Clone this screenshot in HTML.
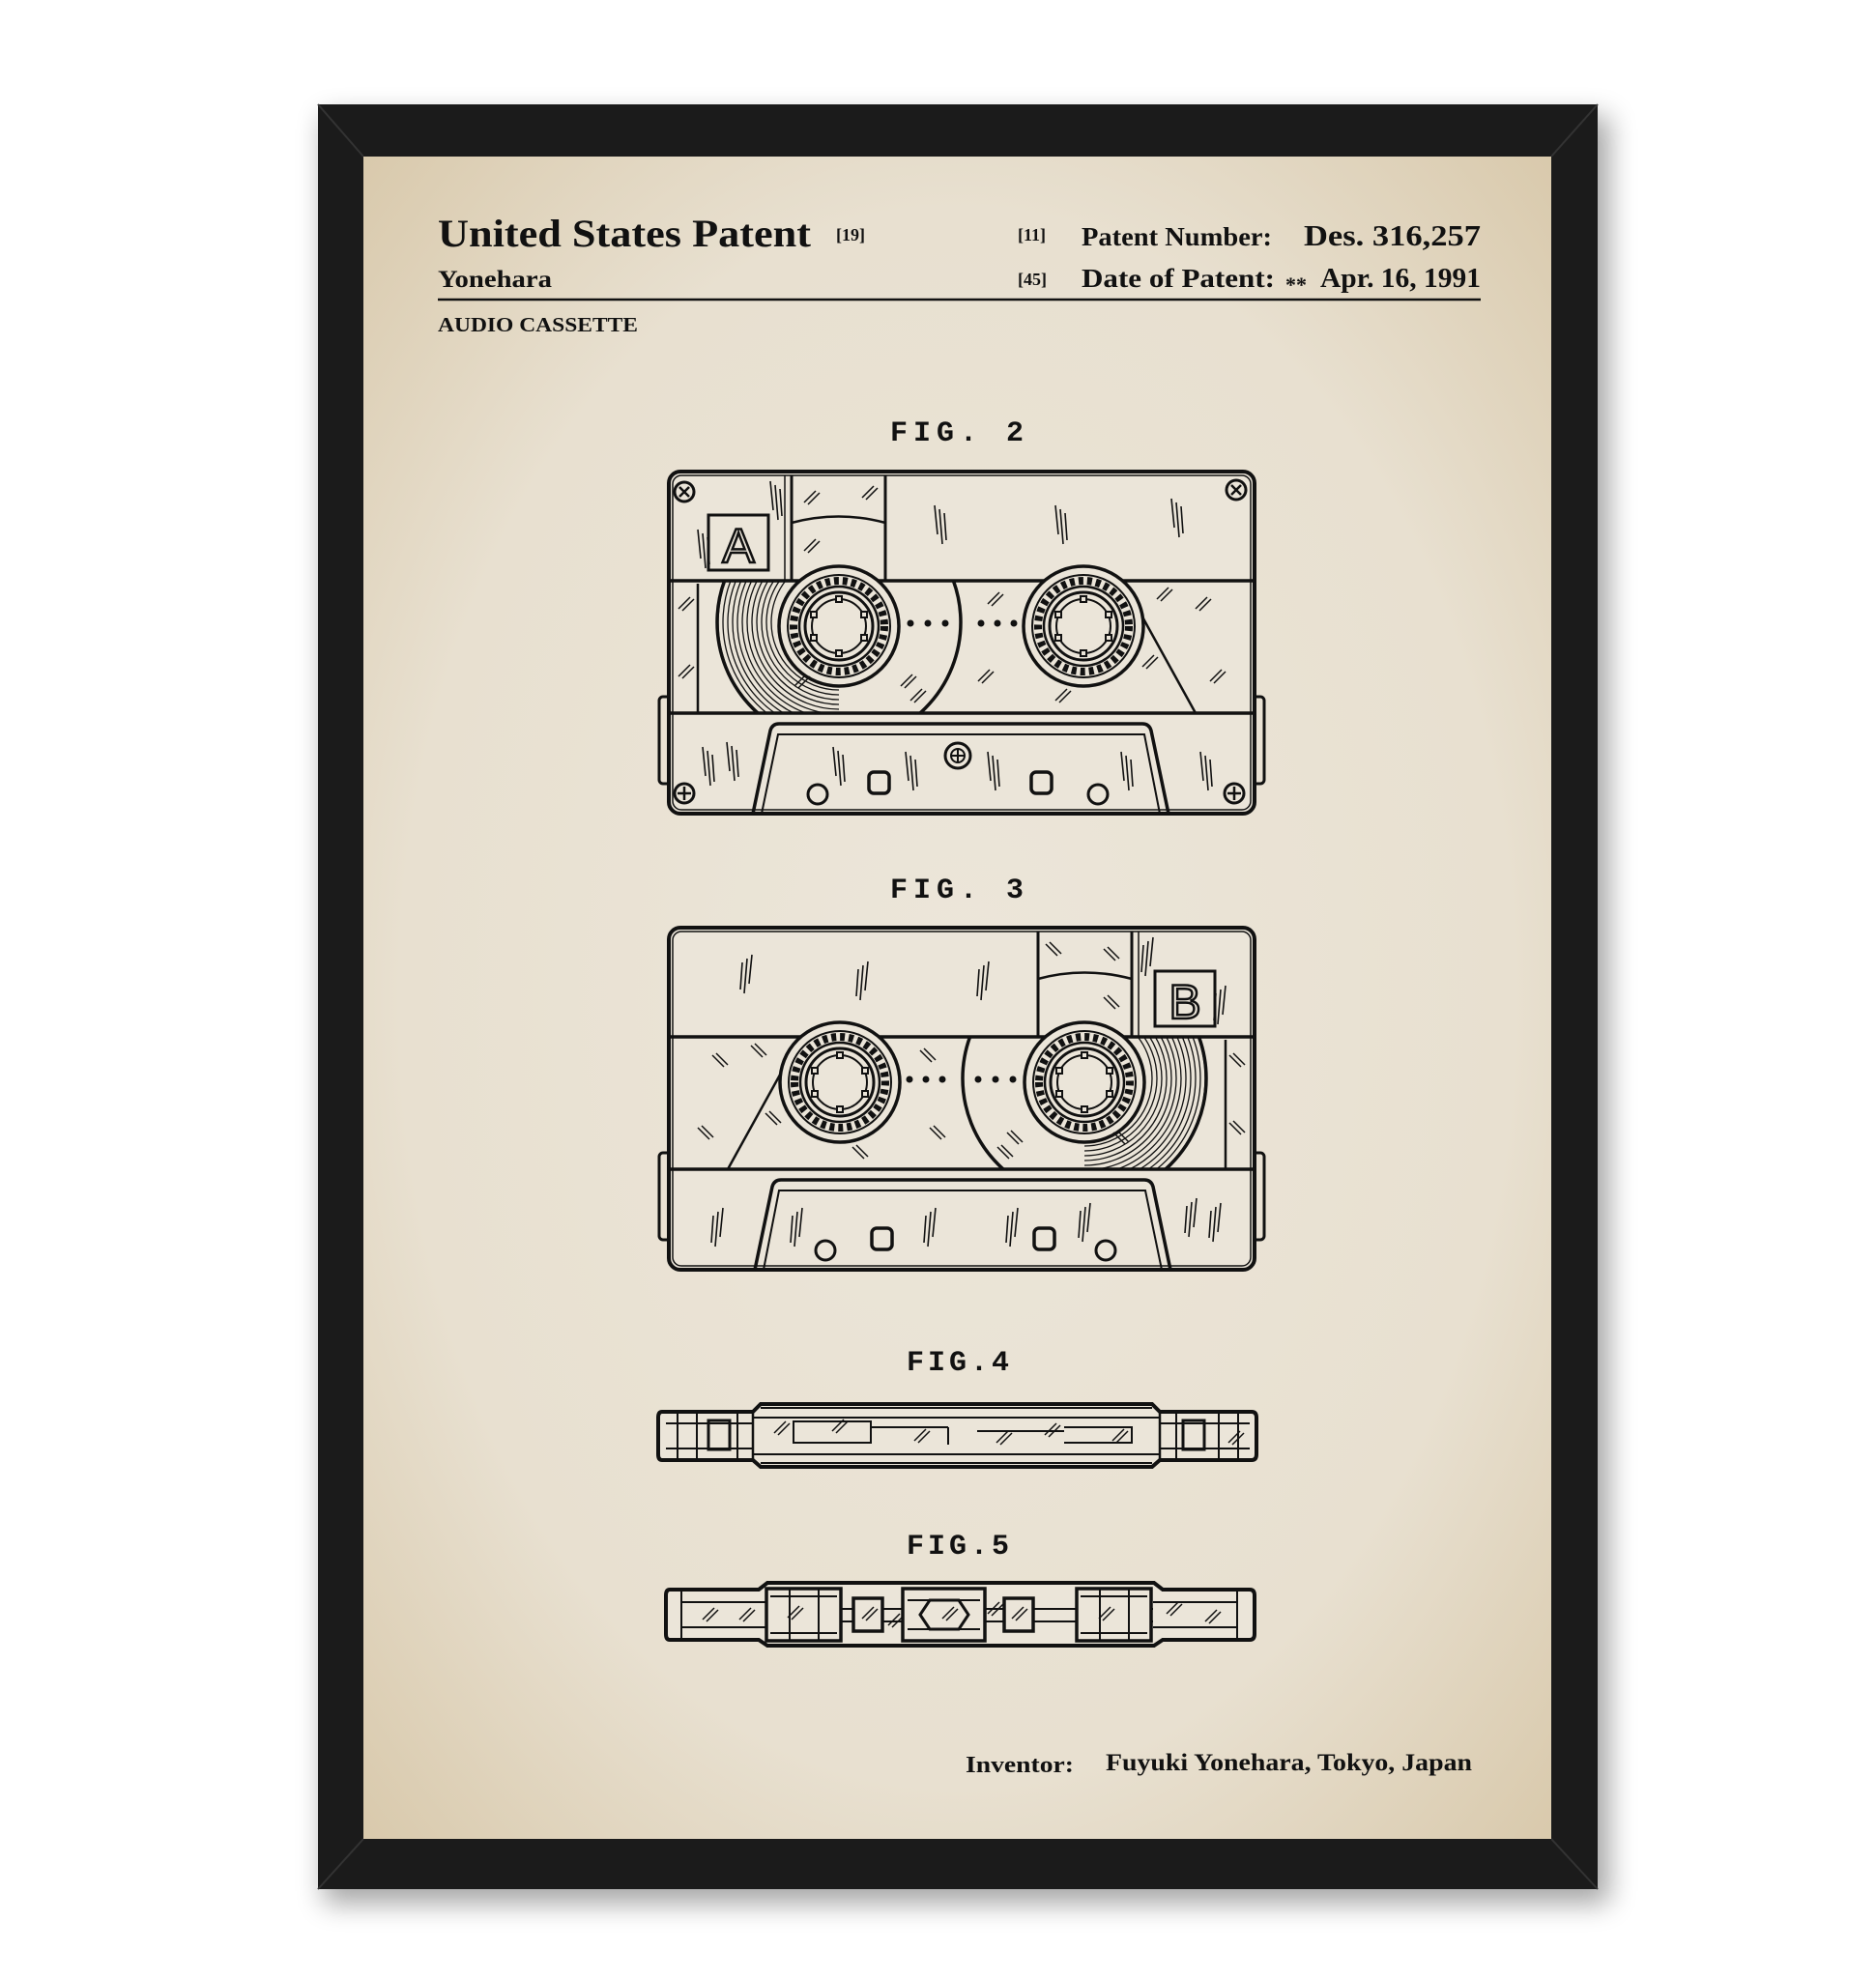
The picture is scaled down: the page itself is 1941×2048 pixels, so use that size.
<!DOCTYPE html>
<html><head><meta charset="utf-8"><style>
html,body{margin:0;padding:0;background:#fff;}
svg{display:block}
</style></head><body>
<svg width="1941" height="2048" viewBox="0 0 1941 2048" xmlns="http://www.w3.org/2000/svg">
<defs>
<radialGradient id="pg" cx="50%" cy="50%" r="72%">
<stop offset="0" stop-color="#ece6da"/><stop offset="0.65" stop-color="#e8e0d0"/><stop offset="1" stop-color="#d8c8aa"/>
</radialGradient>
<filter id="sh" x="-10%" y="-10%" width="120%" height="120%"><feGaussianBlur stdDeviation="14"/></filter>
<clipPath id="win"><rect x="0" y="113" width="606" height="137"/></clipPath>
<clipPath id="leftpack"><rect x="0" y="113" width="176" height="137"/></clipPath>
<g id="reel">
<circle r="62" fill="#ebe5d9" stroke="#111" stroke-width="3.5"/>
<circle r="53" fill="none" stroke="#111" stroke-width="2"/>
<circle r="47" fill="none" stroke="#111" stroke-width="8" stroke-dasharray="5 4"/>
<circle r="41" fill="#ebe5d9" stroke="#111" stroke-width="2.5"/>
<circle r="35" fill="none" stroke="#111" stroke-width="3"/>
<circle r="28" fill="none" stroke="#111" stroke-width="2"/>
<g stroke="#111" stroke-width="2" fill="#ebe5d9">
<rect x="-3" y="-31" width="6" height="6"/><rect x="-3" y="25" width="6" height="6"/>
<rect x="-29" y="-15" width="6" height="6"/><rect x="23" y="-15" width="6" height="6"/>
<rect x="-29" y="9" width="6" height="6"/><rect x="23" y="9" width="6" height="6"/>
</g>
</g>
<g id="screwX"><circle r="10" fill="none" stroke="#111" stroke-width="3"/><path d="M-5,-5L5,5M5,-5L-5,5" stroke="#111" stroke-width="2.5"/></g>
<g id="screwP"><circle r="10" fill="none" stroke="#111" stroke-width="3"/><path d="M-7,0H7M0,-7V7" stroke="#111" stroke-width="2.5"/></g>
<g id="hatch"><path d="M0,12L12,0M4,14L16,2" stroke="#111" stroke-width="1.5"/></g>
<g id="vh"><path d="M0,0L3,30M5,4L8,40M10,8L12,36" stroke="#111" stroke-width="1.6" fill="none"/></g>
<g id="cas" fill="none" stroke="#111">
<rect x="-10" y="233" width="12" height="90" rx="4" stroke-width="3"/>
<rect x="604" y="233" width="12" height="90" rx="4" stroke-width="3"/>
<rect x="0" y="0" width="606" height="354" rx="12" stroke-width="4" fill="#ebe5d9"/>
<rect x="4" y="4" width="598" height="346" rx="9" stroke-width="1.5"/>
<path d="M0,113H606M0,250H606" stroke-width="3.5"/>
<path d="M127,4V113M224,4V113" stroke-width="3"/>
<path d="M120,4V113" stroke-width="1.5"/>
<path d="M127,53Q176,40 224,53" stroke-width="2.5"/>
<rect x="41" y="45" width="62" height="57" stroke-width="3"/>
<g clip-path="url(#leftpack)" stroke-width="1.3">
<circle cx="176" cy="156" r="125"/><circle cx="176" cy="156" r="120"/><circle cx="176" cy="156" r="115"/><circle cx="176" cy="156" r="110"/><circle cx="176" cy="156" r="105"/><circle cx="176" cy="156" r="100"/><circle cx="176" cy="156" r="95"/><circle cx="176" cy="156" r="90"/><circle cx="176" cy="156" r="85"/><circle cx="176" cy="156" r="80"/><circle cx="176" cy="156" r="75"/><circle cx="176" cy="156" r="70"/>
</g>
<g clip-path="url(#win)">
<circle cx="176" cy="156" r="126" stroke-width="3.5"/>
<path d="M471,116L545,250" stroke-width="2.5"/>
<path d="M30,116V250" stroke-width="2.5"/>
</g>
<use href="#reel" x="176" y="160"/>
<use href="#reel" x="429" y="160"/>
<g fill="#111" stroke="none"><circle cx="250" cy="157" r="3.5"/><circle cx="268" cy="157" r="3.5"/><circle cx="286" cy="157" r="3.5"/><circle cx="323" cy="157" r="3.5"/><circle cx="340" cy="157" r="3.5"/><circle cx="357" cy="157" r="3.5"/></g>
<path d="M87,354L105,268Q107,261 114,261H490Q497,261 499,268L517,354" stroke-width="3.5"/>
<path d="M96,354L113,272H492L508,354" stroke-width="2"/>
<circle cx="154" cy="334" r="10" stroke-width="3"/><circle cx="444" cy="334" r="10" stroke-width="3"/>
<rect x="207" y="311" width="21" height="22" rx="5" stroke-width="3.5"/><rect x="375" y="311" width="21" height="22" rx="5" stroke-width="3.5"/>
<use href="#vh" x="275" y="35"/><use href="#vh" x="400" y="35"/><use href="#vh" x="520" y="28"/>
<use href="#vh" x="30" y="60"/><use href="#vh" x="105" y="10"/>
<use href="#vh" x="35" y="285"/><use href="#vh" x="60" y="280"/><use href="#vh" x="170" y="285"/><use href="#vh" x="245" y="290"/><use href="#vh" x="330" y="290"/><use href="#vh" x="468" y="290"/><use href="#vh" x="550" y="290"/>
<use href="#hatch" x="140" y="20"/><use href="#hatch" x="200" y="15"/><use href="#hatch" x="140" y="70"/>
<use href="#hatch" x="10" y="130"/><use href="#hatch" x="10" y="200"/><use href="#hatch" x="130" y="210"/><use href="#hatch" x="240" y="210"/><use href="#hatch" x="250" y="225"/><use href="#hatch" x="320" y="205"/><use href="#hatch" x="330" y="125"/><use href="#hatch" x="400" y="225"/><use href="#hatch" x="490" y="190"/><use href="#hatch" x="545" y="130"/><use href="#hatch" x="560" y="205"/><use href="#hatch" x="505" y="120"/>
</g>
</defs>

<rect x="335" y="120" width="1330" height="1850" fill="#000" opacity="0.35" filter="url(#sh)"/>
<rect x="329" y="108" width="1324" height="1847" fill="#1b1b1b"/>
<path d="M329,108L376,162M1653,108L1605,162M329,1955L376,1903M1653,1955L1605,1903" stroke="#333" stroke-width="2"/>
<rect x="376" y="162" width="1229" height="1741" fill="url(#pg)"/>

<g font-family="Liberation Serif, serif" font-weight="bold" fill="#111">
<text x="453" y="255" font-size="40" textLength="386" lengthAdjust="spacingAndGlyphs">United States Patent</text>
<text x="865" y="249" font-size="18">[19]</text>
<text x="1053" y="249" font-size="18">[11]</text>
<text x="1119" y="254" font-size="27" textLength="197" lengthAdjust="spacingAndGlyphs">Patent Number:</text>
<text x="1349" y="254" font-size="31" textLength="183" lengthAdjust="spacingAndGlyphs">Des. 316,257</text>
<text x="453" y="297" font-size="25" textLength="118" lengthAdjust="spacingAndGlyphs">Yonehara</text>
<text x="1053" y="295" font-size="18">[45]</text>
<text x="1119" y="297" font-size="27" textLength="200" lengthAdjust="spacingAndGlyphs">Date of Patent:</text>
<text x="1330" y="302" font-size="22">**</text>
<text x="1366" y="297" font-size="29" textLength="166" lengthAdjust="spacingAndGlyphs">Apr. 16, 1991</text>
<text x="453" y="343" font-size="21" textLength="207" lengthAdjust="spacingAndGlyphs">AUDIO CASSETTE</text>
<text x="999" y="1834" font-size="24" textLength="112" lengthAdjust="spacingAndGlyphs">Inventor:</text>
<text x="1144" y="1832" font-size="25" textLength="379" lengthAdjust="spacingAndGlyphs">Fuyuki Yonehara, Tokyo, Japan</text>
</g>
<path d="M453,310H1532" stroke="#111" stroke-width="2.5"/>

<g font-family="Liberation Mono, monospace" font-size="30" fill="#111" text-anchor="middle" font-weight="bold">
<text x="993" y="456" letter-spacing="6">FIG. 2</text>
<text x="993" y="929" letter-spacing="6">FIG. 3</text>
<text x="993" y="1418" letter-spacing="4">FIG.4</text>
<text x="993" y="1608" letter-spacing="4">FIG.5</text>
</g>

<!-- FIG 2 -->
<use href="#cas" x="692" y="488"/>
<g transform="translate(692 488)">
<use href="#screwX" x="16" y="21"/><use href="#screwX" x="587" y="19"/>
<use href="#screwP" x="16" y="333"/><use href="#screwP" x="585" y="333"/>
<circle cx="299" cy="294" r="13" fill="none" stroke="#111" stroke-width="3"/>
<path d="M293,294H305M299,288V300" stroke="#111" stroke-width="2"/>
<circle cx="299" cy="294" r="7" fill="none" stroke="#111" stroke-width="2"/>
</g>
<text x="764" y="582" font-family="Liberation Sans, sans-serif" font-size="50" fill="none" stroke="#111" stroke-width="2.5" text-anchor="middle">A</text>

<!-- FIG 3 (mirror, no screws) -->
<g transform="translate(1298 960) scale(-1 1)"><use href="#cas"/></g>
<text x="1226" y="1054" font-family="Liberation Sans, sans-serif" font-size="50" fill="none" stroke="#111" stroke-width="2.5" text-anchor="middle">B</text>

<!-- FIG 4 -->
<g transform="translate(681 1453)" fill="none" stroke="#111">
<path d="M4,8H98L106,0H511L519,8H614Q619,8 619,14V52Q619,58 614,58H519L511,65H106L98,58H4Q0,58 0,52V14Q0,8 4,8Z" stroke-width="4" fill="#ebe5d9"/>
<path d="M106,4H511M106,61H511" stroke-width="2"/>
<path d="M98,8V58M519,8V58" stroke-width="2.5"/>
<path d="M8,20H98M8,46H98M519,20H612M519,46H612M98,14H519M98,52H519" stroke-width="2"/>
<path d="M20,8V58M40,8V58M82,8V58M536,8V58M580,8V58M600,8V58" stroke-width="2"/>
<rect x="52" y="17" width="22" height="30" stroke-width="3"/><rect x="543" y="17" width="22" height="30" stroke-width="3"/>
<path d="M140,18H220V40H140ZM220,24H300M300,24V42M330,28H420M420,24H490V40H420" stroke-width="2"/>
<use href="#hatch" x="120" y="18"/><use href="#hatch" x="180" y="16"/><use href="#hatch" x="265" y="26"/><use href="#hatch" x="350" y="28"/><use href="#hatch" x="400" y="20"/><use href="#hatch" x="470" y="26"/><use href="#hatch" x="590" y="28"/>
</g>

<!-- FIG 5 -->
<g transform="translate(687 1638)" fill="none" stroke="#111">
<path d="M6,7H98L107,0H507L516,7H606Q611,7 611,13V53Q611,59 606,59H516L507,65H107L98,59H6Q2,59 2,53V13Q2,7 6,7Z" stroke-width="4" fill="#ebe5d9"/>
<path d="M18,7V59M593,7V59" stroke-width="2"/>
<path d="M18,20H106M18,46H106M506,20H593M506,46H593M106,27H506M106,40H506" stroke-width="2"/>
<rect x="106" y="6" width="77" height="54" stroke-width="3.5" fill="#ebe5d9"/>
<rect x="427" y="6" width="77" height="54" stroke-width="3.5" fill="#ebe5d9"/>
<rect x="247" y="6" width="85" height="54" stroke-width="3.5" fill="#ebe5d9"/>
<rect x="196" y="16" width="30" height="34" stroke-width="3.5" fill="#ebe5d9"/>
<rect x="352" y="16" width="30" height="34" stroke-width="3.5" fill="#ebe5d9"/>
<path d="M130,6V60M160,6V60M451,6V60M481,6V60M110,14H179M110,52H179M431,14H500M431,52H500M252,18H327M252,48H327" stroke-width="2"/>
<path d="M265,33L275,18H305L315,33L305,48H275Z" stroke-width="3"/>
<use href="#hatch" x="40" y="26"/><use href="#hatch" x="78" y="26"/><use href="#hatch" x="128" y="24"/><use href="#hatch" x="205" y="25"/><use href="#hatch" x="232" y="32"/><use href="#hatch" x="288" y="25"/><use href="#hatch" x="335" y="20"/><use href="#hatch" x="360" y="25"/><use href="#hatch" x="450" y="25"/><use href="#hatch" x="520" y="20"/><use href="#hatch" x="560" y="28"/>
</g>
</svg>
</body></html>
